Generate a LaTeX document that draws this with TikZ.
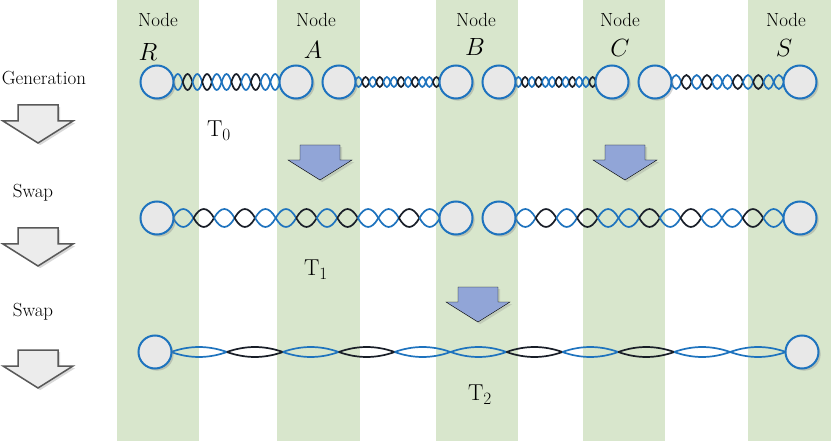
\documentclass[tikz,border=0pt]{standalone}
\usepackage{tikz}
\usetikzlibrary{shadows}
\definecolor{stripe}{RGB}{216,230,204}
\definecolor{linkblue}{RGB}{30,115,190}
\definecolor{linkblack}{RGB}{25,30,40}
\definecolor{arrowblue}{RGB}{145,165,215}
\tikzset{
  qnode/.style={circle,draw=linkblue,line width=2pt,fill=gray!18,minimum size=33pt,inner sep=0pt,drop shadow={opacity=0.35}},
  lbl/.style={font=\fontsize{19}{21}\selectfont},
  big/.style={font=\fontsize{23}{25}\selectfont},
  grayarrow/.style={fill=gray!15,draw=gray!70!black,line width=1.5pt,drop shadow={opacity=0.3}},
  bluearrow/.style={fill=arrowblue,drop shadow={opacity=0.25}}
}
% down arrow: name, x, y (top centre), half stem, stem, half head, head, style
\newcommand{\downarr}[8]{%
  \coordinate (#1) at (#2,#3);
  \draw[#8] (#2-#4,#3) -- (#2+#4,#3) -- (#2+#4,#3+#5) -- (#2+#6,#3+#5) -- (#2,#3+#5+#7)
    -- (#2-#6,#3+#5) -- (#2-#4,#3+#5) -- cycle;}
% twisted pair: x1, x2, y, lobes, half height
\newcommand{\twist}[5]{%
  \pgfmathsetmacro{\lw}{(#2-#1)/#4}
  \foreach \i in {1,...,#4}{
    \pgfmathsetmacro{\xa}{#1+(\i-1)*\lw}
    \pgfmathsetmacro{\xb}{#1+\i*\lw}
    \pgfmathtruncatemacro{\m}{mod(\i,5)}
    \ifnum\m=2 \def\lc{linkblack}\else\ifnum\m=4 \def\lc{linkblack}\else\def\lc{linkblue}\fi\fi
    \draw[\lc,line width=1.7pt] (\xa,#3) .. controls ({\xa+\lw/3},{#3-1.33*#5}) and ({\xb-\lw/3},{#3-1.33*#5}) .. (\xb,#3)
      .. controls ({\xb-\lw/3},{#3+1.33*#5}) and ({\xa+\lw/3},{#3+1.33*#5}) .. (\xa,#3);
  }}
\begin{document}
\begin{tikzpicture}[x=1pt,y=-1pt]
  \useasboundingbox (0,0) rectangle (831,441);
  % stripes
  \foreach \a/\b in {117/199,277/360,436/518,583/665,748/831}
    \fill[stripe] (\a,0) rectangle (\b,441);
  % node headers
  \foreach \x/\n/\l/\lx/\ly in {158/R/R/148/52,316/A/A/313/50,476/B/B/475/47,620/C/C/620/48,786/S/S/784/48}{
    \node[lbl] (h\n) at (\x,20) {Node};
    \node[big] (l\n) at (\lx,\ly) {$\l$};
  }
  % links
  \twist{173}{280}{82}{11}{8}
  \twist{355}{440}{82}{12}{5}
  \twist{515}{596}{82}{12}{5}
  \twist{671}{784}{82}{11}{7}
  \twist{173}{440}{218}{13}{9}
  \twist{515}{784}{218}{13}{9}
  \twist{171}{786}{352}{11}{5}
  % row T0
  \node[qnode] (r0) at (157,82) {};
  \node[qnode] (a0) at (296,82) {};
  \node[qnode] (a1) at (339,82) {};
  \node[qnode] (b0) at (456,82) {};
  \node[qnode] (b1) at (499,82) {};
  \node[qnode] (c0) at (612,82) {};
  \node[qnode] (c1) at (655,82) {};
  \node[qnode] (s0) at (800,82) {};
  % row T1
  \node[qnode] (r1) at (157,218) {};
  \node[qnode] (b2) at (456,218) {};
  \node[qnode] (b3) at (499,218) {};
  \node[qnode] (s1) at (800,218) {};
  % row T2
  \node[qnode] (r2) at (155,352) {};
  \node[qnode] (s2) at (802,352) {};
  % times
  \node[big] (t0) at (219,131) {T$_0$};
  \node[big] (t1) at (316,270) {T$_1$};
  \node[big] (t2) at (480,395) {T$_2$};
  % steps
  \node[lbl] (gen) at (44,78) {Generation};
  \node[lbl] (sw1) at (33,193) {Swap};
  \node[lbl] (sw2) at (33,312) {Swap};
  \downarr{g1}{38}{105}{20}{16}{35}{22}{grayarrow}
  \downarr{g2}{38}{228}{20}{16}{35}{22}{grayarrow}
  \downarr{g3}{38}{350}{20}{16}{35}{22}{grayarrow}
  \downarr{p1}{320}{145}{20}{15}{32}{20}{bluearrow}
  \downarr{p2}{625}{145}{20}{15}{32}{20}{bluearrow}
  \downarr{p3}{478}{287}{20}{15}{32}{20}{bluearrow}
\end{tikzpicture}
\end{document}
